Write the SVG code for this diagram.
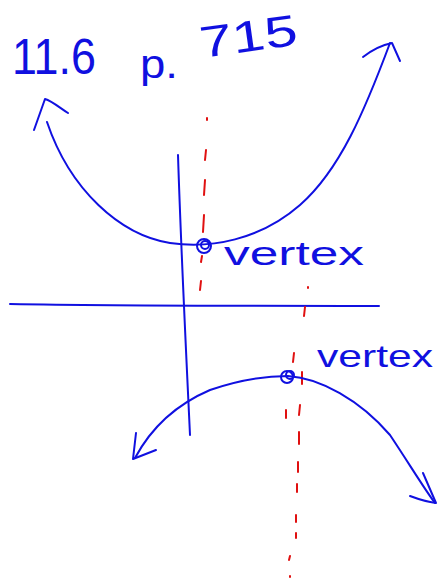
<svg xmlns="http://www.w3.org/2000/svg" width="438" height="580" viewBox="0 0 438 580">
<style>
.ink{fill:none;stroke:#1010e0;stroke-width:2;stroke-linecap:round;stroke-linejoin:round}
.red{fill:none;stroke:#e01010;stroke-width:2;stroke-linecap:round}
.txt{fill:#1010e0;font-family:"Liberation Sans",Arial,sans-serif}
</style>
<rect width="438" height="580" fill="#fff"/>
<g id="labels">
<text class="txt" x="12" y="74" font-size="50" textLength="84" lengthAdjust="spacingAndGlyphs">11.6</text>
<text class="txt" x="140" y="78" font-size="40" textLength="38" lengthAdjust="spacingAndGlyphs">p.</text>
<text class="txt" x="202" y="58" font-size="44" textLength="98" lengthAdjust="spacingAndGlyphs" transform="rotate(-8 202 58)">715</text>
</g>
<g id="axes">
<path class="ink" d="M10,304 C120,306 250,306 379,306"/>
<path class="ink" d="M178,155 C181,250 186,350 190,435"/>
</g>
<g id="symmetry-lines">
<path class="red" d="M207,118 L207,120 M206,150 L205,160 M205,180 L204,195 M204,215 L203,232 M202,256 L201,262 M201,281 L200,290" stroke-dasharray="none"/>
<path class="red" d="M308,287 L308,288 M305,307 L304,316 M294,353 L293,362 M302,372 L302,384 M286,410 L286,418 M300,405 L299,415 M299,432 L299,444 M298,462 L298,472 M297,484 L297,492 M296,515 L296,522 M296,533 L296,538 M290,556 L289,560 M290,576 L290,577"/>
</g>
<g id="upper-parabola">
<path class="ink" d="M47,122 C70,190 120,235 170,243 C210,249 260,240 300,205 C340,170 365,110 390,43"/>
<path class="ink" d="M34,130 L45,99 C52,101 60,108 68,113"/>
<path class="ink" d="M363,57 C372,50 382,45 392,43 L400,61"/>
<circle class="ink" cx="204" cy="246" r="7"/>
<circle class="ink" cx="205" cy="245" r="4"/>
<text class="txt" x="224" y="265" font-size="34" textLength="140" lengthAdjust="spacingAndGlyphs">vertex</text>
</g>
<g id="lower-parabola">
<path class="ink" d="M135,458 C150,430 175,405 210,390 C245,378 270,376 288,376 C320,378 360,400 390,435 C410,465 425,490 435,503"/>
<path class="ink" d="M136,433 L133,459 L156,450"/>
<path class="ink" d="M423,473 L436,503 C428,502 418,499 410,496"/>
<circle class="ink" cx="287" cy="377" r="6"/>
<circle class="ink" cx="290" cy="375" r="4"/>
<text class="txt" x="317" y="367" font-size="32" textLength="116" lengthAdjust="spacingAndGlyphs">vertex</text>
</g>
</svg>
